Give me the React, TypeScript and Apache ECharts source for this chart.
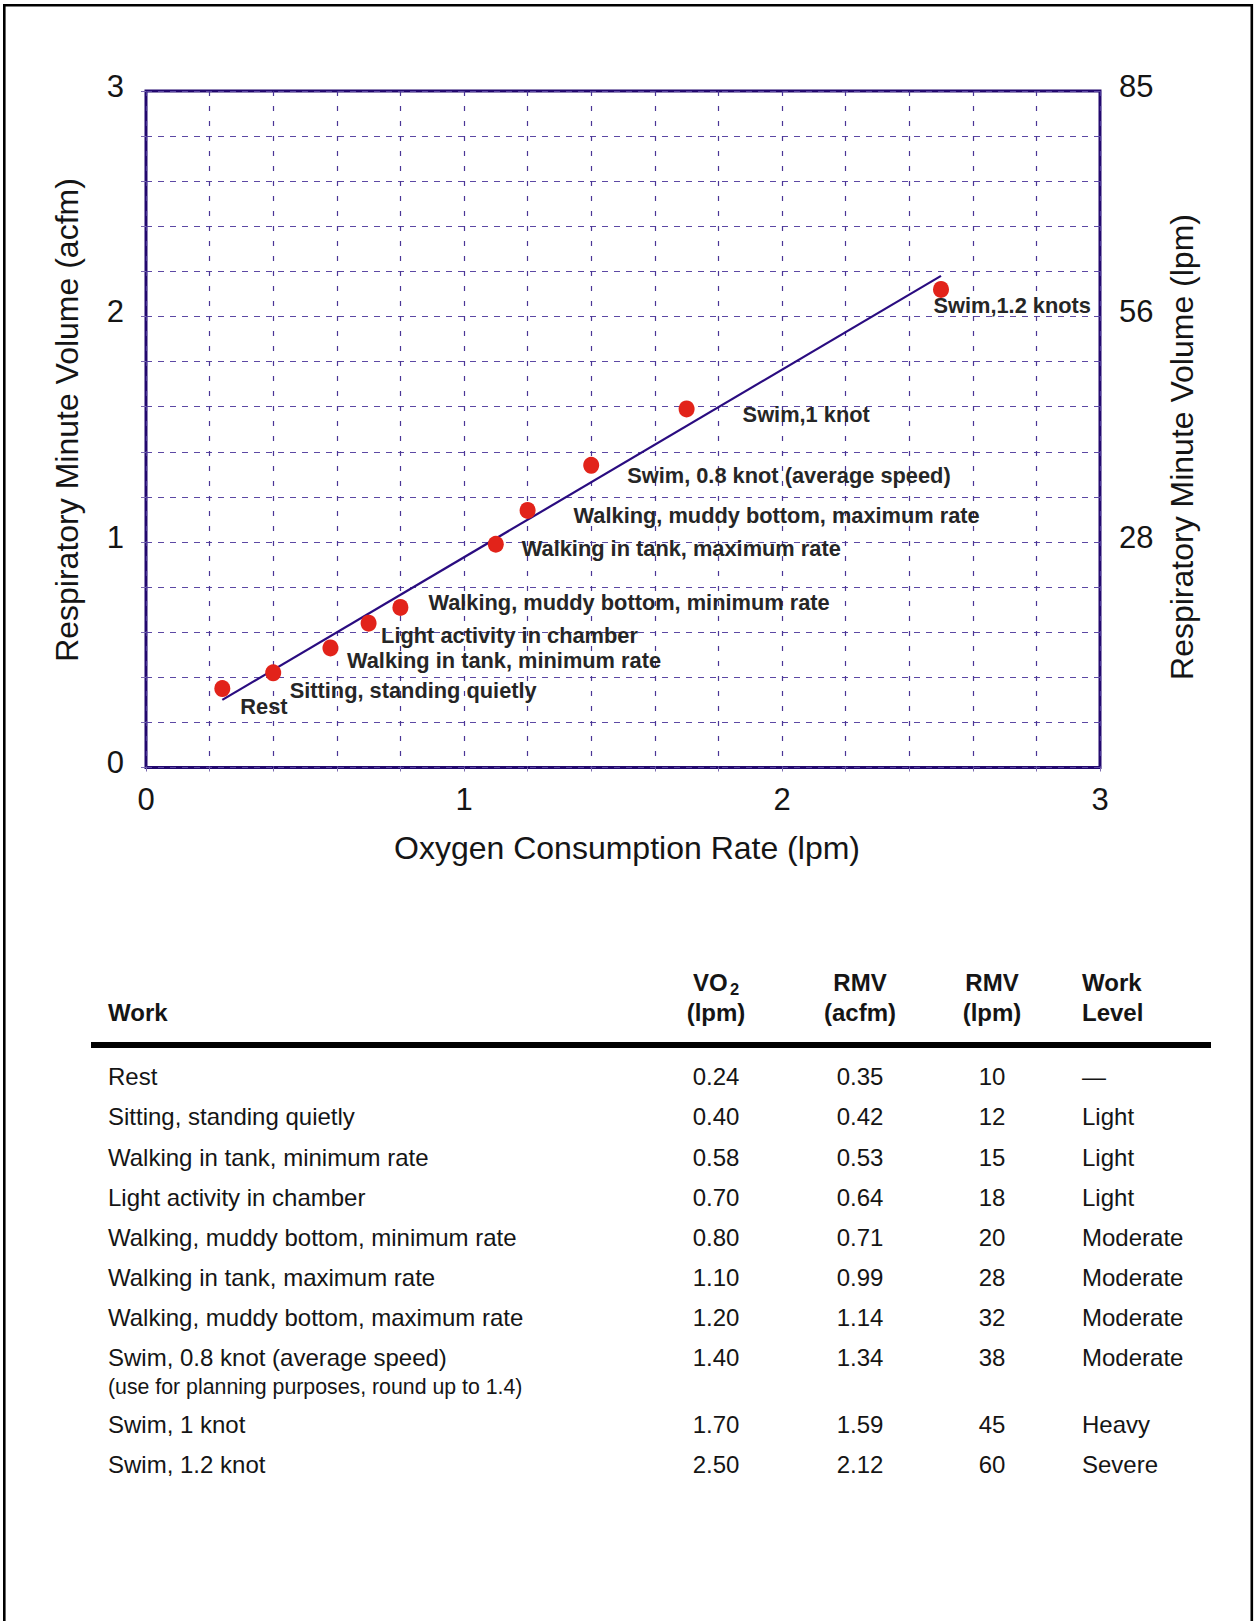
import React, { useEffect, useRef } from 'react';
import * as echarts from 'echarts';

// ---------- data ----------
const activities = [
  'Rest',
  'Sitting, standing quietly',
  'Walking in tank, minimum rate',
  'Light activity in chamber',
  'Walking, muddy bottom, minimum rate',
  'Walking in tank, maximum rate',
  'Walking, muddy bottom, maximum rate',
  'Swim, 0.8 knot (average speed)',
  'Swim, 1 knot',
  'Swim, 1.2 knot',
];
const chartLabels = [
  'Rest',
  'Sitting, standing quietly',
  'Walking in tank, minimum rate',
  'Light activity in chamber',
  'Walking, muddy bottom, minimum rate',
  'Walking in tank, maximum rate',
  'Walking, muddy bottom, maximum rate',
  'Swim, 0.8 knot (average speed)',
  'Swim,1 knot',
  'Swim,1.2 knots',
];
const vo2 = [0.24, 0.4, 0.58, 0.7, 0.8, 1.1, 1.2, 1.4, 1.7, 2.5];
const rmvAcfm = [0.35, 0.42, 0.53, 0.64, 0.71, 0.99, 1.14, 1.34, 1.59, 2.12];
const rmvLpm = [10, 12, 15, 18, 20, 28, 32, 38, 45, 60];
const workLevel = ['—', 'Light', 'Light', 'Light', 'Moderate', 'Moderate', 'Moderate', 'Moderate', 'Heavy', 'Severe'];
const trendLine = [
  [0.24, 0.3],
  [2.5, 2.18],
];
const xTickLabels = ['0', '1', '2', '3'];
const leftTickLabels = ['0', '1', '2', '3'];
const rightTickLabels = ['', '28', '56', '85'];
const swimNote = '(use for planning purposes, round up to 1.4)';
const noteAfterRow = 7;

// ---------- layout (pixels) ----------
const labelOffsets = [
  [18, 18],
  [16.5, 17.5],
  [16.5, 13],
  [12.5, 12.5],
  [28, -5],
  [26, 4],
  [46, 5],
  [36, 10],
  [56, 6],
  [-7.5, 16],
];
const FONT = '"Liberation Sans", Arial, Helvetica, sans-serif';
const TXT = '#151515';
const BORDER = '#22086e';
const GRIDC = '#4a3596';
const TABLE_FS = 24;

function txt(text: string, x: number, y: number, opts: any = {}) {
  const align = opts.align || 'left';
  const v = opts.verticalAlign || 'middle';
  return {
    type: 'text',
    x,
    y,
    rotation: opts.rotation || 0,
    silent: true,
    style: {
      text,
      fontFamily: FONT,
      fontSize: opts.fontSize || TABLE_FS,
      fontWeight: opts.fontWeight || 'normal',
      fill: opts.fill || TXT,
      align,
      textAlign: align,
      verticalAlign: v,
      textVerticalAlign: v,
    },
  };
}

export default function App() {
  const ref = useRef<HTMLDivElement>(null);

  useEffect(() => {
    if (!ref.current) return;
    const chart = echarts.init(ref.current, undefined, { renderer: 'svg' });

    const rowY = (i: number) => 1076.7 + i * 40.15 + (i > noteAfterRow ? 26.5 : 0);
    const colWork = 108;
    const colVo2 = 716;
    const colAcfm = 860;
    const colLpm = 992;
    const colLevel = 1082;

    const graphics: any[] = [
      // page frame
      { type: 'rect', silent: true, shape: { x: 3, y: 4, width: 2.6, height: 1617 }, style: { fill: '#000' } },
      { type: 'rect', silent: true, shape: { x: 3, y: 4, width: 1250, height: 2.6 }, style: { fill: '#000' } },
      { type: 'rect', silent: true, shape: { x: 1250.5, y: 4, width: 2.6, height: 1617 }, style: { fill: '#000' } },
      // axis names
      txt('Respiratory Minute Volume (acfm)', 67, 420, { align: 'center', fontSize: 32, rotation: Math.PI / 2 }),
      txt('Respiratory Minute Volume (lpm)', 1182, 447, { align: 'center', fontSize: 32, rotation: Math.PI / 2 }),
      txt('Oxygen Consumption Rate (lpm)', 627, 848, { align: 'center', fontSize: 32 }),
      // table header
      txt('Work', colWork, 1012, { fontWeight: 'bold' }),
      txt('VO', 693, 982, { fontWeight: 'bold' }),
      txt('2', 730, 989, { fontWeight: 'bold', fontSize: 16.5 }),
      txt('(lpm)', colVo2, 1012, { fontWeight: 'bold', align: 'center' }),
      txt('RMV', colAcfm, 982, { fontWeight: 'bold', align: 'center' }),
      txt('(acfm)', colAcfm, 1012, { fontWeight: 'bold', align: 'center' }),
      txt('RMV', colLpm, 982, { fontWeight: 'bold', align: 'center' }),
      txt('(lpm)', colLpm, 1012, { fontWeight: 'bold', align: 'center' }),
      txt('Work', colLevel, 982, { fontWeight: 'bold' }),
      txt('Level', colLevel, 1012, { fontWeight: 'bold' }),
      { type: 'rect', silent: true, shape: { x: 91, y: 1042, width: 1120, height: 6 }, style: { fill: '#000' } },
    ];

    activities.forEach((a, i) => {
      const y = rowY(i);
      graphics.push(txt(a, colWork, y));
      graphics.push(txt(vo2[i].toFixed(2), colVo2, y, { align: 'center' }));
      graphics.push(txt(rmvAcfm[i].toFixed(2), colAcfm, y, { align: 'center' }));
      graphics.push(txt(String(rmvLpm[i]), colLpm, y, { align: 'center' }));
      graphics.push(txt(workLevel[i], colLevel, y));
    });
    graphics.push(txt(swimNote, colWork, 1387, { fontSize: 21.3 }));

    const scatterData = vo2.map((x, i) => ({
      value: [x, rmvAcfm[i]],
      label: {
        position: [8 + labelOffsets[i][0], 8.5 + labelOffsets[i][1]],
      },
    }));

    const option: any = {
      animation: false,
      backgroundColor: '#ffffff',
      grid: {
        left: 146,
        top: 91,
        width: 954,
        height: 676.5,
        show: true,
        borderColor: BORDER,
        borderWidth: 3,
        backgroundColor: 'transparent',
      },
      xAxis: {
        type: 'value',
        min: 0,
        max: 3,
        interval: 1,
        axisLine: { show: false },
        axisTick: { show: true, length: 4, lineStyle: { color: '#7a6ab0', width: 1 } },
        minorTick: { show: true, splitNumber: 5, length: 4, lineStyle: { color: '#7a6ab0', width: 1 } },
        axisLabel: {
          fontFamily: FONT,
          fontSize: 31,
          color: TXT,
          margin: 16,
          formatter: (v: number) => xTickLabels[Math.round(v)] ?? '',
        },
        splitLine: { show: true, lineStyle: { type: [5, 10], color: GRIDC, width: 1.2 } },
        minorSplitLine: { show: true, lineStyle: { type: [5, 10], color: GRIDC, width: 1.2 } },
      },
      yAxis: [
        {
          type: 'value',
          position: 'left',
          min: 0,
          max: 3,
          interval: 1,
          axisLine: { show: false },
          axisTick: { show: true, length: 5, lineStyle: { color: '#7a6ab0', width: 1 } },
          minorTick: { show: true, splitNumber: 5, length: 5, lineStyle: { color: '#7a6ab0', width: 1 } },
          axisLabel: {
            fontFamily: FONT,
            fontSize: 31,
            color: TXT,
            margin: 22,
            verticalAlign: 'bottom',
            lineHeight: 10,
            formatter: (v: number) => leftTickLabels[Math.round(v)] ?? '',
          },
          splitLine: { show: true, lineStyle: { type: [6, 6], color: '#5c48a4', width: 1.2 } },
          minorSplitLine: { show: true, lineStyle: { type: [6, 6], color: '#5c48a4', width: 1.2 } },
        },
        {
          type: 'value',
          position: 'right',
          min: 0,
          max: 3,
          interval: 1,
          axisLine: { show: false },
          axisTick: { show: false },
          splitLine: { show: false },
          axisLabel: {
            fontFamily: FONT,
            fontSize: 31,
            color: TXT,
            margin: 19,
            verticalAlign: 'bottom',
            lineHeight: 10,
            formatter: (v: number) => rightTickLabels[Math.round(v)] ?? '',
          },
        },
      ],
      series: [
        {
          type: 'line',
          data: trendLine,
          symbol: 'none',
          silent: true,
          lineStyle: { color: '#2a0c80', width: 2.2 },
          z: 2,
        },
        {
          type: 'scatter',
          data: scatterData,
          symbol: 'circle',
          symbolSize: [16, 17],
          itemStyle: { color: '#e2231a', opacity: 1 },
          z: 3,
          label: {
            show: true,
            formatter: (p: any) => chartLabels[p.dataIndex],
            fontFamily: FONT,
            fontSize: 21.8,
            fontWeight: 'bold',
            color: '#262626',
            align: 'left',
            verticalAlign: 'middle',
          },
        },
      ],
      graphic: graphics,
    };

    chart.setOption(option);
    return () => {
      chart.dispose();
    };
  }, []);

  return (
    <div
      ref={ref}
      style={{ position: 'absolute', left: 0, top: 0, width: 1254, height: 1621, background: '#fff' }}
    />
  );
}
